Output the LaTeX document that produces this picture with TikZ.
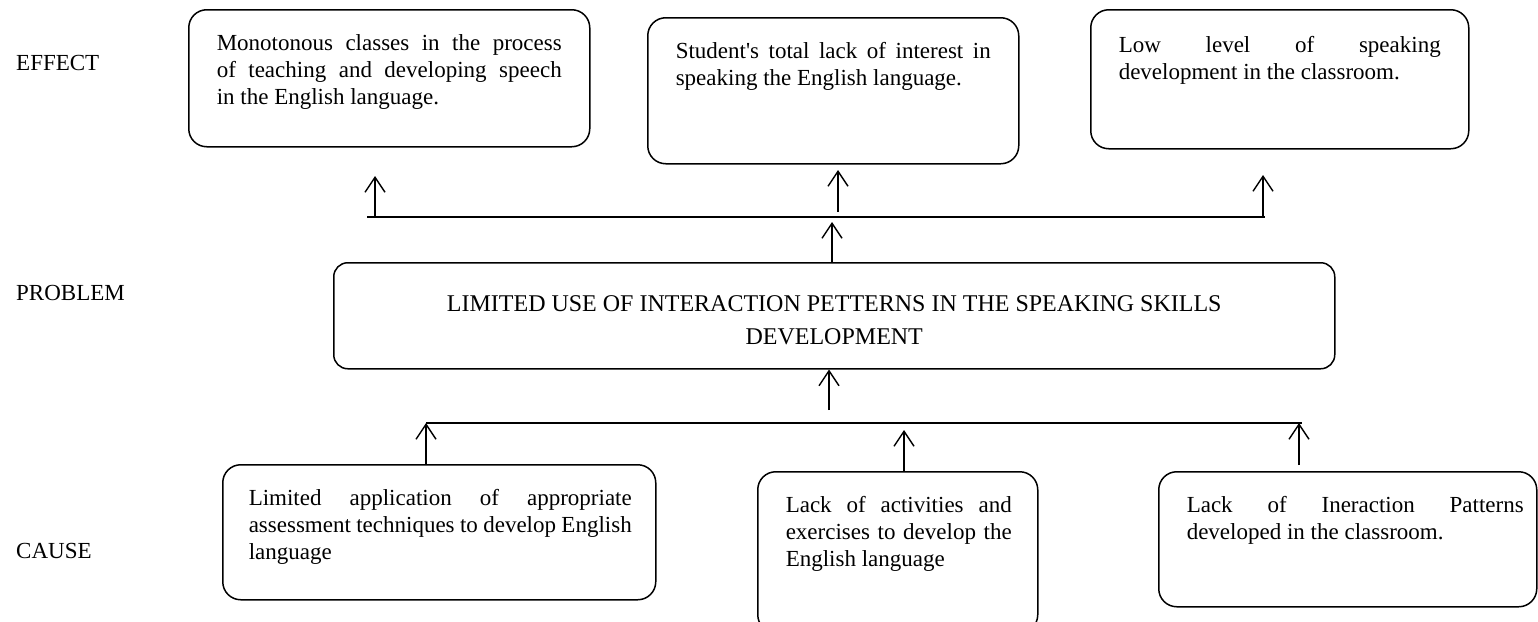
\documentclass[tikz,border=0pt]{standalone}
\usepackage{fontspec}
\setmainfont{Liberation Serif}[Ligatures=TeXOff]
\usetikzlibrary{arrows.meta}
\newcommand\jl[1]{\makebox[\linewidth][s]{#1}}
\newcommand\txtsz{\fontsize{23}{27}\selectfont}
\begin{document}
\begin{tikzpicture}[x=1pt,y=-1pt,
  box/.style={draw, line width=1.5pt, rounded corners=18pt, inner sep=0pt, anchor=north west},
  arr/.style={line width=1.4pt, -{Straight Barb[length=15pt,width=20pt]}},
  bus/.style={line width=1.4pt},
  lab/.style={anchor=base west, inner sep=0pt, font=\txtsz}]
\useasboundingbox (0,0) rectangle (1538,621);

% level labels
\node[lab] (lE) at (16,70) {EFFECT};
\node[lab] (lP) at (16,300) {PROBLEM};
\node[lab] (lC) at (16,558) {CAUSE};

% effect boxes
\node[box] (e1) at (188,9) {\hspace*{28pt}\parbox[c][137pt][t]{345pt}{\txtsz\rule{0pt}{41pt}\jl{Monotonous classes in the process}\\\jl{of teaching and developing speech}\\in the English language.}\hspace*{28pt}};
\node[box] (e2) at (647,17) {\hspace*{28pt}\parbox[c][146pt][t]{315pt}{\txtsz\rule{0pt}{41pt}\jl{Student's total lack of interest in}\\speaking the English language.}\hspace*{28pt}};
\node[box] (e3) at (1090,9) {\hspace*{28pt}\parbox[c][139pt][t]{322pt}{\txtsz\rule{0pt}{43pt}\jl{Low level of speaking}\\development in the classroom.}\hspace*{28pt}};

% problem box
\node[box, rounded corners=14pt] (p) at (333,262) {\parbox[c][106pt][t]{1001pt}{\centering\fontsize{24}{33}\selectfont\rule{0pt}{49pt}LIMITED USE OF INTERACTION PETTERNS IN THE SPEAKING SKILLS\\DEVELOPMENT}};

% cause boxes
\node[box] (c1) at (222,464) {\hspace*{26pt}\parbox[c][135pt][t]{383pt}{\txtsz\rule{0pt}{41pt}\jl{Limited application of appropriate}\\\jl{assessment techniques to develop English}\\language}\hspace*{24pt}};
\node[box] (c2) at (757,471) {\hspace*{28pt}\parbox[c][161pt][t]{226pt}{\txtsz\rule{0pt}{41pt}\jl{Lack of activities and}\\\jl{exercises to develop the}\\English language}\hspace*{26pt}};
\node[box] (c3) at (1158,471) {\hspace*{28pt}\parbox[c][135pt][t]{337pt}{\txtsz\rule{0pt}{41pt}\jl{Lack of Ineraction Patterns}\\developed in the classroom.}\hspace*{13pt}};

% effect bus and arrows
\coordinate (ebL) at (367,217);
\coordinate (ebR) at (1265,217);
\draw[bus] (ebL) -- (ebR);
\coordinate (ea1) at (375,217);  \coordinate (eh1) at (375,176);
\coordinate (ea2) at (838,212);  \coordinate (eh2) at (838,170);
\coordinate (ea3) at (1263,217); \coordinate (eh3) at (1263,175);
\draw[arr] (ea1) -- (eh1);
\draw[arr] (ea2) -- (eh2);
\draw[arr] (ea3) -- (eh3);
\coordinate (ph) at (832,222);
\draw[arr] (p.north -| ph) -- (ph);

% cause bus and arrows
\coordinate (cbL) at (426,423);
\coordinate (cbR) at (1302,423);
\draw[bus] (cbL) -- (cbR);
\coordinate (pb) at (829,410);
\draw[arr] (pb) -- (p.south -| pb);
\coordinate (ch1) at (426,423);
\coordinate (ch2) at (904,430);
\coordinate (ch3) at (1299,423);
\draw[arr] (c1.north -| ch1) -- (ch1);
\draw[arr] (c2.north -| ch2) -- (ch2);
\coordinate (c3s) at (1299,465);
\draw[arr] (c3s) -- (ch3);
\end{tikzpicture}
\end{document}
